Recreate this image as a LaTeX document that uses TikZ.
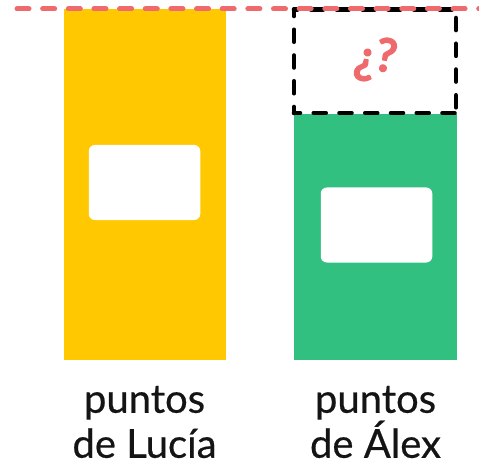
\documentclass[tikz,border=0pt]{standalone}
\usepackage{fontspec}
\setmainfont{Lato}
\newfontfamily\labfont[FakeBold=0.5]{Lato}
\newfontfamily\qfont[FakeBold=5]{Lato}
\definecolor{barY}{HTML}{FFC800}
\definecolor{barG}{HTML}{32C080}
\definecolor{redL}{HTML}{EF6A6C}
\tikzset{
  barbox/.style={fill=#1,draw=none,inner sep=0pt,outer sep=0pt,anchor=north west},
  slot/.style={fill=white,draw=none,rounded corners=6pt,inner sep=0pt,minimum width=111.5pt,minimum height=75pt},
  lab/.style={align=center,font=\labfont\fontsize{40}{45}\selectfont,text=black!92,inner sep=0pt},
  blackdash/.style={black,line width=4.6pt,line cap=round,dash pattern=on 12pt off 13.75pt,dash phase=#1},
  reddash/.style={redL,line width=5pt,line cap=round,dash pattern=on 12pt off 13.65pt}
}
\begin{document}
\begin{tikzpicture}[x=1pt,y=-1pt]
\useasboundingbox (0,0) rectangle (479,465);
\node[barbox=barY,minimum width=161.5pt,minimum height=350.5pt] (yb) at (64,9) {};
\node[barbox=barG,minimum width=162.5pt,minimum height=245.5pt] (gb) at (294,114) {};
\node[slot] (ys) at (144.5,182.5) {};
\node[slot] (gs) at (376.5,225) {};
\coordinate (q1) at (294,9.5);
\coordinate (q2) at (456,9.5);
\coordinate (q3) at (456,113);
\coordinate (q4) at (294,113);
\draw[blackdash=6pt] (q4) -- (q1);
\draw[blackdash=6pt] (q4) -- (q3);
\draw[blackdash=8.7pt] (q1) -- (q2);
\draw[blackdash=17.2pt] (q2) -- (q3);
\coordinate (la) at (17,9);
\coordinate (lb) at (479,9);
\draw[reddash] (la) -- (lb);
\node[font=\qfont\fontsize{45}{45}\selectfont,text=redL,rotate=-10,inner sep=0pt] (qm) at (375.5,59.5) {¿\raisebox{5pt}{?}};
\node[lab] (l1) at (144.5,422) {puntos\\de Lucía};
\node[lab] (l2) at (375.5,422) {puntos\\de Álex};
\end{tikzpicture}
\end{document}
